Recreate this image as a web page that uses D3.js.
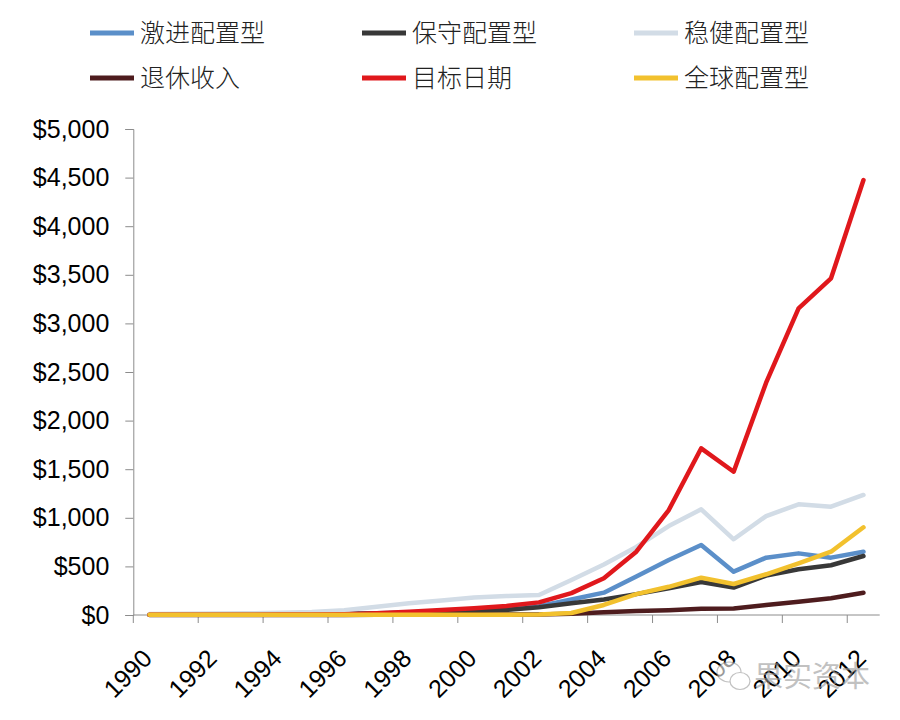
<!DOCTYPE html>
<html>
<head>
<meta charset="utf-8">
<script src="https://cdn.jsdelivr.net/npm/d3@7"></script>
<style>
  html, body { margin: 0; padding: 0; background: #fff; }
  svg { display: block; }
</style>
</head>
<body>
<svg id="chart" width="900" height="720"></svg>
<script>
// ---- data ----
const years = d3.range(1990, 2013);
const seriesNames = ["激进配置型", "保守配置型", "稳健配置型", "退休收入", "目标日期", "全球配置型"];
const seriesColors = ["#5b8fc9", "#383838", "#d2dce6", "#4e1c1e", "#e0181c", "#f2c12e"];
const aggressive   = [2, 3, 4, 5, 6, 8, 12, 18, 25, 35, 45, 58, 90, 160, 230, 395, 566, 720, 446, 590, 634, 590, 651];
const conservative = [2, 3, 4, 5, 6, 8, 11, 15, 22, 30, 40, 52, 80, 120, 160, 215, 275, 340, 282, 405, 470, 512, 607];
const moderate     = [10, 12, 15, 18, 22, 30, 50, 85, 120, 150, 180, 195, 205, 360, 520, 700, 915, 1087, 779, 1018, 1139, 1114, 1235];
const retirement   = [0, 0, 0, 0, 0, 0, 1, 2, 3, 4, 5, 5, 6, 12, 28, 41, 50, 65, 68, 103, 137, 172, 228];
const targetDate   = [2, 2, 3, 3, 4, 5, 8, 18, 34, 51, 69, 93, 130, 225, 378, 651, 1080, 1715, 1474, 2390, 3155, 3464, 4475];
const globalAlloc  = [2, 2, 2, 2, 2, 2, 2, 2, 2, 2, 2, 3, 5, 20, 103, 215, 290, 384, 319, 419, 532, 651, 902];
const seriesValues = [aggressive, conservative, moderate, retirement, targetDate, globalAlloc];
const yTicks = d3.range(0, 5001, 500);
const xTickYears = years.filter(v => v % 2 === 0);

// ---- layout ----
const svg = d3.select("#chart");
const plotLeft = 133.3, plotRight = 879.7, plotTop = 129, plotBottom = 615;

const x = d3.scaleBand().domain(years).range([plotLeft, plotRight]).paddingInner(0).paddingOuter(0);
const y = d3.scaleLinear().domain([0, 5000]).range([plotBottom, plotTop]);
const cx = yr => x(yr) + x.bandwidth() / 2;

const axisFont = "'Liberation Sans', Arial, sans-serif";
const axisColor = "#8c8c8c";

// y axis
const yAxis = d3.axisLeft(y).tickValues(yTicks).tickSize(8).tickPadding(16)
  .tickFormat(d => "$" + d3.format(",")(d));
const gy = svg.append("g").attr("transform", `translate(${plotLeft},0)`).call(yAxis);
gy.select(".domain").attr("stroke", axisColor).attr("stroke-width", 1);
gy.selectAll(".tick line").attr("stroke", axisColor);
gy.selectAll(".tick text").attr("fill", "#000").style("font-family", axisFont).style("font-size", "25px");

// x axis (category boundaries every two years)
const gx = svg.append("g").attr("transform", `translate(0,${plotBottom})`);
gx.append("line").attr("x1", plotLeft).attr("x2", plotRight).attr("y1", 0).attr("y2", 0)
  .attr("stroke", axisColor).attr("stroke-width", 1);
gx.selectAll("line.tick").data(xTickYears).join("line").attr("class", "tick")
  .attr("x1", d => x(d)).attr("x2", d => x(d)).attr("y1", 0).attr("y2", 8)
  .attr("stroke", axisColor);
gx.selectAll("text.lbl").data(xTickYears).join("text").attr("class", "lbl")
  .attr("transform", d => `translate(${cx(d) + 4},${45}) rotate(-45)`)
  .attr("text-anchor", "end")
  .style("font-family", axisFont).style("font-size", "25px").attr("fill", "#000")
  .text(d => d);

// lines
const line = d3.line().x((d, i) => cx(years[i])).y(d => y(d)).curve(d3.curveLinear);
svg.append("g").selectAll("path").data(seriesValues).join("path")
  .attr("d", d => line(d))
  .attr("fill", "none")
  .attr("stroke", (d, i) => seriesColors[i])
  .attr("stroke-width", 4.5)
  .attr("stroke-linejoin", "round")
  .attr("stroke-linecap", "round");

// legend
const legendCols = [90, 362, 634];
const legendRows = [33, 78];
const lg = svg.append("g").selectAll("g").data(seriesNames).join("g")
  .attr("transform", (d, i) => `translate(${legendCols[i % 3]},${legendRows[Math.floor(i / 3)]})`);
lg.append("line").attr("x1", 0).attr("x2", 44).attr("y1", 0).attr("y2", 0)
  .attr("stroke", (d, i) => seriesColors[i]).attr("stroke-width", 5);
lg.append("text").attr("x", 50).attr("y", 0).attr("dy", "0.36em")
  .style("font-family", "'Noto Sans CJK SC', sans-serif").style("font-size", "25px")
  .style("font-weight", 300).attr("fill", "#222")
  .text(d => d);

// watermark
const wm = svg.append("g").attr("opacity", 0.6);
wm.append("ellipse").attr("cx", 729).attr("cy", 672).attr("rx", 12).attr("ry", 10)
  .attr("fill", "#fff").attr("stroke", "#999").attr("stroke-width", 1.2);
wm.append("ellipse").attr("cx", 740).attr("cy", 681).attr("rx", 10).attr("ry", 8.5)
  .attr("fill", "#fff").attr("stroke", "#999").attr("stroke-width", 1.2);
wm.append("text").attr("x", 754).attr("y", 687)
  .style("font-family", "'Noto Sans CJK SC', sans-serif").style("font-size", "29px")
  .attr("fill", "#999").text("果实资本");
</script>
</body>
</html>
